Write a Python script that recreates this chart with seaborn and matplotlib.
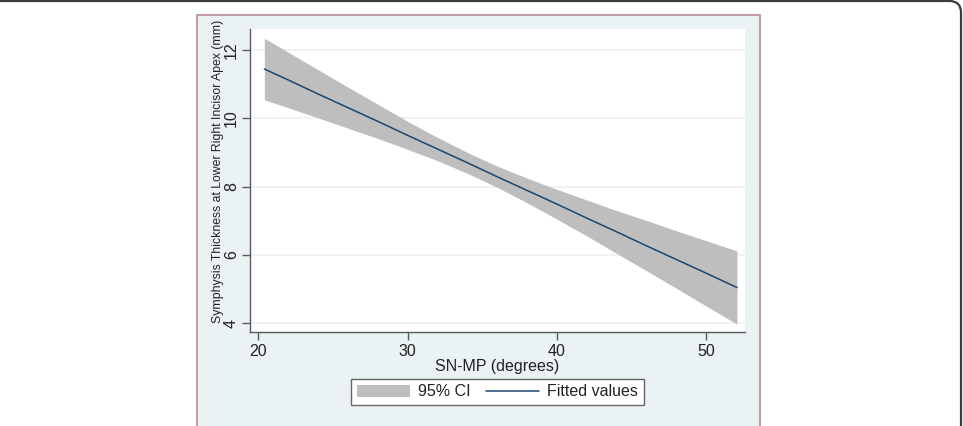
import matplotlib
matplotlib.use("Agg")
import matplotlib.pyplot as plt
import seaborn as sns
import pandas as pd
from matplotlib.patches import Rectangle, FancyBboxPatch, Patch
from matplotlib.lines import Line2D

# ---- data ----
sn_mp = [20.4, 22, 24, 26, 28, 30, 32, 34, 36, 38, 40, 42, 44, 46, 48, 50, 52.06]
fitted = [11.44, 11.12, 10.71, 10.31, 9.91, 9.50, 9.10, 8.70, 8.29, 7.89,
          7.49, 7.08, 6.68, 6.27, 5.87, 5.47, 5.05]
ci_low = [10.54, 10.31, 10.01, 9.71, 9.41, 9.09, 8.76, 8.39, 7.98, 7.53,
          7.05, 6.56, 6.05, 5.54, 5.03, 4.51, 3.98]
ci_high = [12.34, 11.93, 11.42, 10.91, 10.41, 9.91, 9.44, 9.00, 8.60, 8.25,
           7.92, 7.61, 7.30, 7.01, 6.71, 6.42, 6.12]
x_ticks = [20, 30, 40, 50]
y_ticks = [4, 6, 8, 10, 12]
x_label = "SN-MP (degrees)"
y_label = "Symphysis Thickness at Lower Right Incisor Apex (mm)"
legend_labels = ["95% CI", "Fitted values"]

df = pd.DataFrame({"x": sn_mp, "fit": fitted, "lo": ci_low, "hi": ci_high})

sns.set_theme(style="ticks")
plt.rcParams["font.family"] = ["Liberation Sans", "DejaVu Sans"]

W, H = 963, 426
fig = plt.figure(figsize=(W / 100, H / 100), dpi=100)
fig.patch.set_facecolor("white")


def fx(px):
    return px / W


def fy(py):
    return 1 - py / H


# outer frame (top and right edges visible)
frame = FancyBboxPatch((fx(-20), fy(460)), fx(961) - fx(-20), fy(1) - fy(460),
                       boxstyle="round,pad=0,rounding_size=0.012",
                       mutation_aspect=W / H,
                       transform=fig.transFigure, facecolor="none",
                       edgecolor="#3c3c3c", lw=1.6, zorder=-3)
fig.patches.append(frame)

# graph region
region = Rectangle((fx(196.5), fy(440)), fx(759.5) - fx(196.5), fy(14.5) - fy(440),
                   transform=fig.transFigure, facecolor="#eaf2f3",
                   edgecolor="#c49ca8", lw=1.5, zorder=-2)
fig.patches.append(region)

ax = fig.add_axes([fx(250), fy(332), fx(745) - fx(250), fy(29) - fy(332)])
ax.set_facecolor("white")

ax.fill_between(df["x"], df["lo"], df["hi"], color="#bebebe", lw=0, zorder=2)
sns.lineplot(data=df, x="x", y="fit", ax=ax, color="#1a476f", lw=1.1, zorder=3)

ax.set_xlim(19.44, 52.6)
ax.set_ylim(3.75, 12.61)
ax.set_xticks(x_ticks)
ax.set_yticks(y_ticks)
ax.set_xticklabels([str(t) for t in x_ticks])
ax.set_yticklabels([str(t) for t in y_ticks], rotation=90, va="center")

ax.yaxis.grid(True, color="#eaf2f3", lw=1.2, zorder=0)
ax.xaxis.grid(False)
ax.set_axisbelow(True)

for s in ["top", "right"]:
    ax.spines[s].set_visible(False)
for s in ["left", "bottom"]:
    ax.spines[s].set_color("#5a5a5a")
    ax.spines[s].set_linewidth(1.0)

ax.tick_params(axis="both", direction="out", length=6, width=1, color="#5a5a5a",
               labelsize=11.5, labelcolor="#222222")
ax.tick_params(axis="x", pad=2.5)
ax.tick_params(axis="y", pad=2)

ax.set_xlabel(x_label, fontsize=11.5, color="#222222")
ax.xaxis.set_label_coords((497 - 250) / 495, (332 - 366) / 303)
ax.xaxis.label.set_va("center")

ax.set_ylabel(y_label, fontsize=8.8, color="#222222")
ax.yaxis.set_label_coords((218 - 250) / 495, (332 - 171) / 303)
ax.yaxis.label.set_va("center")

handles = [Patch(facecolor="#bebebe", edgecolor="none", label=legend_labels[0]),
           Line2D([], [], color="#1a476f", lw=1.1, label=legend_labels[1])]
leg = fig.legend(handles=handles, ncol=2, loc="center",
                 bbox_to_anchor=(fx(497.5), fy(392)), frameon=True, fancybox=False,
                 edgecolor="#666666", facecolor="white", framealpha=1,
                 fontsize=11.5, handlelength=3.3, handleheight=0.85,
                 handletextpad=0.5, columnspacing=1.0, borderpad=0.35,
                 borderaxespad=0)
leg.get_frame().set_linewidth(1.0)
for t in leg.get_texts():
    t.set_color("#222222")

fig.savefig("out.png", dpi=100)
